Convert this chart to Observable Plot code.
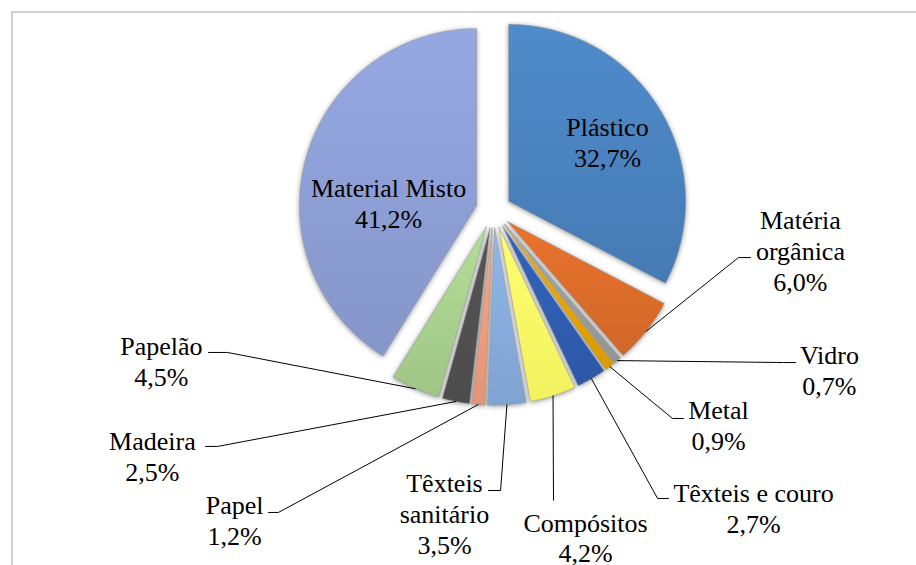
<!DOCTYPE html>
<html><head><meta charset="utf-8">
<script src="https://cdn.jsdelivr.net/npm/d3@7"></script>
<script src="https://cdn.jsdelivr.net/npm/@observablehq/plot@0.6"></script>
</head><body style="margin:0">
<script>
// ---- data ----
const categories = ["Plástico", "Matéria\norgânica", "Vidro", "Metal", "Têxteis e couro",
  "Compósitos", "Têxteis\nsanitário", "Papel", "Madeira", "Papelão", "Material Misto"];
const values = [32.7, 6.0, 0.7, 0.9, 2.7, 4.2, 3.5, 1.2, 2.5, 4.5, 41.2];

// ---- styles ----
const colors = ["#4A82BE", "#DB6C2A", "#9C9C9C", "#E6A400", "#2F5DB0", "#FFFF66",
  "#86ACDC", "#EE9C7C", "#505050", "#A8D08D", "#8C9ED4"];
const serif = "'Liberation Serif', 'Times New Roman', Times, serif";

// ---- layout (units of pie radius, relative to pie centre, y downward) ----
const explode = 0.1;
const labelPos = [
  [0.644, -0.390], [1.734, 0.226], [1.898, 0.898], [1.271, 1.209], [1.469, 1.678],
  [0.520, 1.845], [-0.277, 1.712], [-1.463, 1.746], [-1.927, 1.384], [-1.876, 0.847],
  [-0.593, -0.045]
];
// leader elbow + end points (null = label inside slice)
const leaderPts = [
  null,
  [[1.384, 0.266], [1.452, 0.266]],
  [[1.638, 0.859], [1.706, 0.859]],
  [[1.011, 1.175], [1.073, 1.175]],
  [[0.927, 1.627], [0.989, 1.627]],
  [[0.339, 1.638], [0.339, 1.638]],
  [[0.040, 1.582], [-0.028, 1.582]],
  [[-1.215, 1.706], [-1.271, 1.706]],
  [[-1.559, 1.333], [-1.627, 1.333]],
  [[-1.503, 0.802], [-1.610, 0.802]],
  null
];

const W = 916, H = 565, CX = 493, CY = 210, R = 177;

const fmt = v => v.toFixed(1).replace(".", ",") + "%";
const arcs = d3.pie().sort(null).value(d => d)(values);

const slicePts = [];
const leaderData = [];
const labelData = [];
arcs.forEach((a, i) => {
  const mid = (a.startAngle + a.endAngle) / 2;
  const ox = explode * Math.sin(mid), oy = -explode * Math.cos(mid);
  const name = categories[i];
  const fill = `url(#grad${i})`;
  slicePts.push({name, fill, x: ox, y: oy});
  const n = Math.max(2, Math.ceil((a.endAngle - a.startAngle) / 0.01));
  for (let k = 0; k <= n; k++) {
    const t = a.startAngle + (a.endAngle - a.startAngle) * k / n;
    slicePts.push({name, fill, x: ox + Math.sin(t), y: oy - Math.cos(t)});
  }
  slicePts.push({name, fill, x: ox, y: oy});
  if (leaderPts[i]) {
    leaderData.push({name, x: ox + Math.sin(mid), y: oy - Math.cos(mid)});
    leaderPts[i].forEach(p => leaderData.push({name, x: p[0], y: p[1]}));
  }
  labelData.push({label: name + "\n" + fmt(values[i]), lx: labelPos[i][0], ly: labelPos[i][1]});
});

const svg = Plot.plot({
  width: W, height: H,
  margin: 0,
  style: {fontFamily: serif},
  x: {domain: [-CX / R, (W - CX) / R], range: [0, W], axis: null},
  y: {domain: [-CY / R, (H - CY) / R], range: [0, H], axis: null},
  color: {type: "identity"},
  marks: [
    Plot.frame({stroke: "#A6A6A6", insetLeft: 11.5, insetTop: 11.5, insetRight: -20, insetBottom: -20}),
    Plot.line(slicePts, {x: "x", y: "y", z: "name", fill: "fill", stroke: "#9A9A9A",
      strokeWidth: 0.8, strokeOpacity: 0.7, curve: "linear"}),
    Plot.line(leaderData, {x: "x", y: "y", z: "name", stroke: "#000", strokeWidth: 1}),
    Plot.text(labelData, {x: "lx", y: "ly", text: "label", fontFamily: serif,
      fontSize: 26, lineHeight: 1.19, lineAnchor: "middle", textAnchor: "middle"})
  ]
});

const s = d3.select(svg);
s.attr("font-family", serif);
s.selectAll("text, tspan").style("font-family", serif);
const defs = s.append("defs");
colors.forEach((c, i) => {
  const g = defs.append("linearGradient").attr("id", `grad${i}`)
    .attr("x1", 0).attr("y1", 0).attr("x2", 0).attr("y2", 1);
  g.append("stop").attr("offset", "0%").attr("stop-color", d3.color(c).brighter(0.18).formatHex());
  g.append("stop").attr("offset", "100%").attr("stop-color", d3.color(c).darker(0.15).formatHex());
});
s.selectAll("g[aria-label='line']").filter((d, i) => i === 0)
  .style("filter", "drop-shadow(0px 1px 2.5px rgba(0,0,0,0.4))");

document.body.append(svg);
</script>
</body></html>
